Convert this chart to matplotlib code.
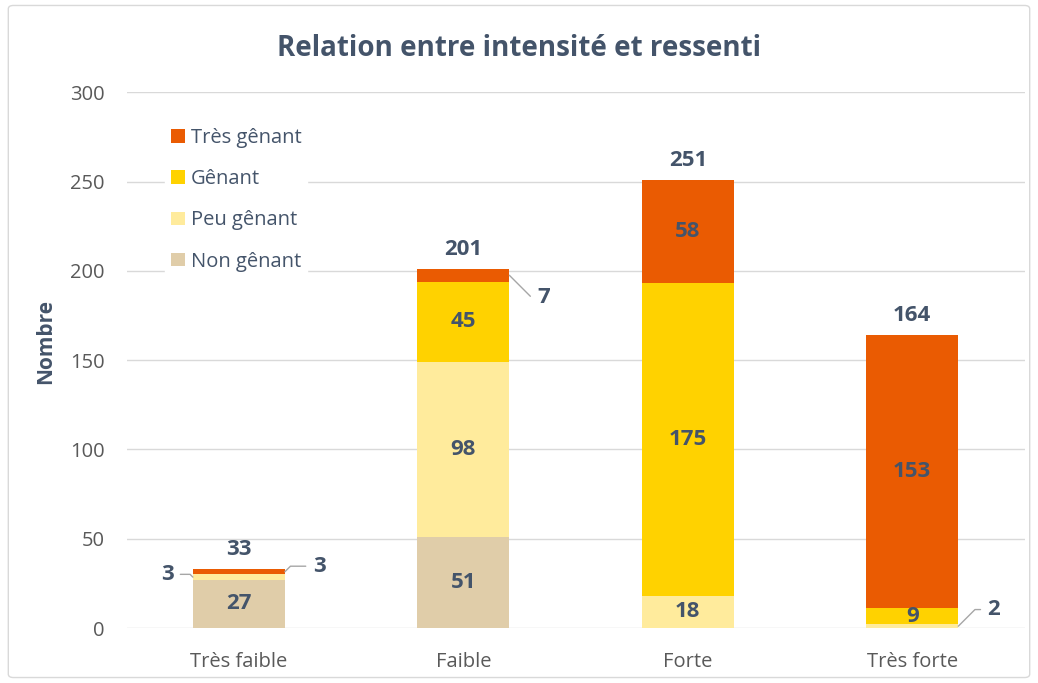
import matplotlib.pyplot as plt
import numpy as np
from matplotlib.patches import FancyBboxPatch

plt.rcParams['font.family'] = ['Open Sans', 'DejaVu Sans']

# Donnees
categories = ['Très faible', 'Faible', 'Forte', 'Très forte']
series = ['Non gênant', 'Peu gênant', 'Gênant', 'Très gênant']
non_genant = [27, 51, 0, 0]
peu_genant = [3, 98, 18, 2]
genant = [0, 45, 175, 9]
tres_genant = [3, 7, 58, 153]
totaux = [33, 201, 251, 164]

couleurs = ['#E0CDA9', '#FFEB9C', '#FFD200', '#EA5B02']
texte = '#44546A'

valeurs = [non_genant, peu_genant, genant, tres_genant]

fig = plt.figure(figsize=(10.38, 6.83), dpi=100)
ax = fig.add_axes([0.122, 0.0805, 0.865, 0.7845])

x = np.arange(len(categories))
largeur = 0.41
taille = 16
bas = np.zeros(len(categories))
for nom, vals, c in zip(series, valeurs, couleurs):
    ax.bar(x, vals, largeur, bottom=bas, color=c, label=nom, zorder=3)
    # etiquettes dans les segments assez grands
    for i, v in enumerate(vals):
        if v >= 9:
            ax.text(x[i], bas[i] + v / 2, str(v), ha='center', va='center',
                    fontsize=taille, fontweight='bold', color=texte, zorder=4)
    bas += np.array(vals)

# totaux au-dessus
for i, t in enumerate(totaux):
    ax.annotate(str(t), (x[i], t), xytext=(0, 6.5), textcoords='offset points',
                ha='center', va='bottom', fontsize=taille, fontweight='bold', color=texte)

# petites valeurs avec traits de rappel
def rappel(xb, yb, dx, dy, txt, ha, angle):
    ax.annotate(txt, (xb, yb), xytext=(dx, dy), textcoords='offset points',
                ha=ha, va='center', fontsize=taille, fontweight='bold', color=texte,
                arrowprops=dict(arrowstyle='-', color='#A6A6A6', lw=1,
                                shrinkA=3, shrinkB=0,
                                connectionstyle='angle,angleA=0,angleB=%d,rad=0' % angle))

rappel(x[0] - largeur / 2, non_genant[0] + peu_genant[0] / 2, -14, 2, str(peu_genant[0]), 'right', 135)
rappel(x[0] + largeur / 2, 31.5, 20, 4, str(tres_genant[0]), 'left', 45)
rappel(x[1] + largeur / 2, 201 - 3.5, 20, -16, str(tres_genant[1]), 'left', -45)
rappel(x[3] + largeur / 2, peu_genant[3] / 2, 21, 12, str(peu_genant[3]), 'left', 45)

ax.set_xlim(-0.5, 3.5)
ax.set_ylim(0, 300)
ax.set_yticks(range(0, 301, 50))
ax.set_xticks(x)
ax.set_xticklabels(categories)
ax.tick_params(axis='both', length=0, labelsize=14.5, colors='#595959')
ax.tick_params(axis='y', pad=16)
ax.tick_params(axis='x', pad=17)
ax.grid(axis='y', color='#D9D9D9', lw=1, zorder=0)
for s in ax.spines.values():
    s.set_visible(False)
ax.set_ylabel('Nombre', fontsize=15, fontweight='bold', color=texte)
ax.yaxis.set_label_coords(-0.078, 0.535)

fig.suptitle('Relation entre intensité et ressenti', x=0.5, y=0.95,
             fontsize=20, fontweight='bold', color=texte)

h, l = ax.get_legend_handles_labels()
leg = ax.legend(h[::-1], l[::-1], loc='upper left', bbox_to_anchor=(0.032, 0.963),
                frameon=True, framealpha=1, edgecolor='white', facecolor='white',
                fontsize=14.5, handlelength=0.65, handleheight=0.65, handletextpad=0.3,
                labelspacing=1.05, borderpad=0.3, fancybox=False)
for t in leg.get_texts():
    t.set_color(texte)

cadre = FancyBboxPatch((0.008, 0.008), 0.984, 0.984, boxstyle='round,pad=0,rounding_size=0.005',
                       transform=fig.transFigure, fill=False, edgecolor='#D9D9D9', lw=1)
fig.patches.append(cadre)

plt.savefig('out.png', dpi=100)
plt.close()
